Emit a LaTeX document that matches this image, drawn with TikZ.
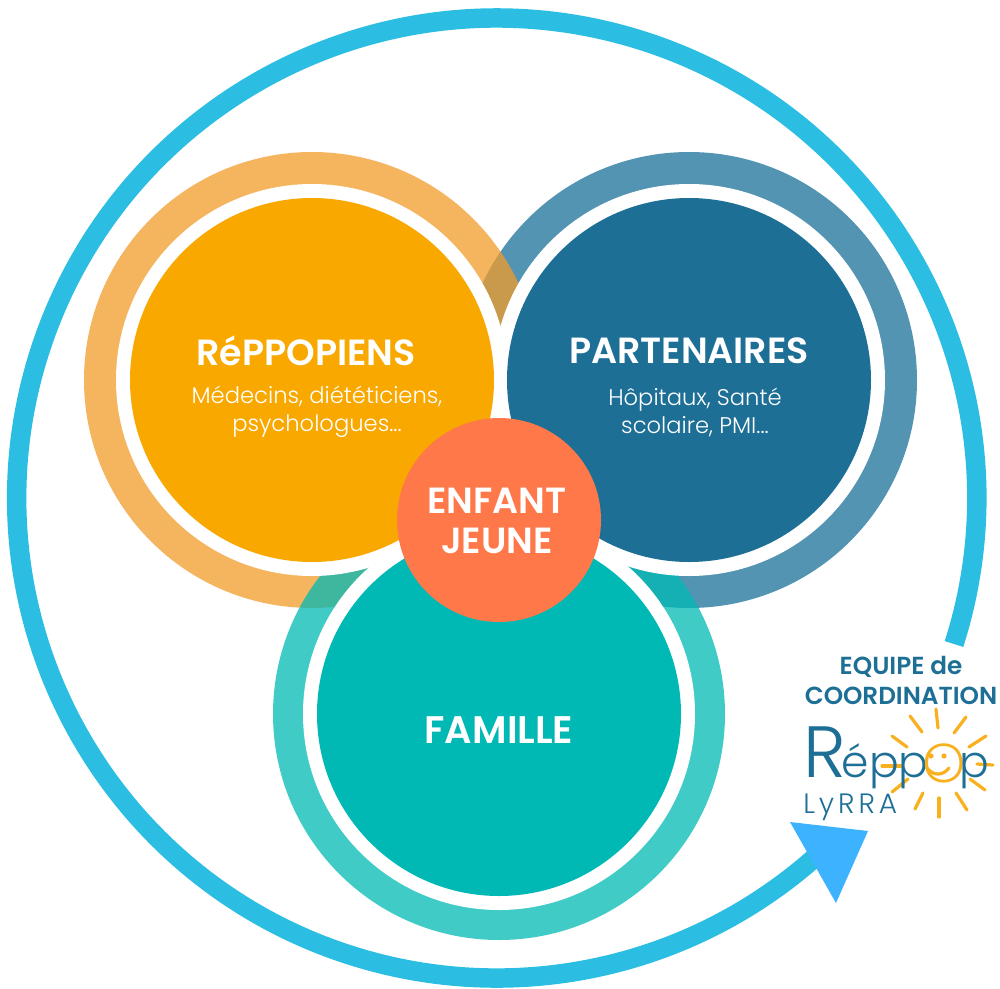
\documentclass[tikz,border=0pt]{standalone}
\usepackage{fontspec}
\usepackage{graphicx}
\setmainfont{Poppins}
\newfontfamily\lightfont{Poppins Light}
\newfontfamily\thinfont{Poppins ExtraLight}
\newfontfamily\boldfont{Poppins SemiBold}
\usetikzlibrary{positioning}
\definecolor{orangefill}{RGB}{249,168,0}
\definecolor{orangering}{RGB}{242,156,42}
\definecolor{bluefill}{RGB}{29,111,150}
\definecolor{bluering}{RGB}{26,112,154}
\definecolor{tealfill}{RGB}{0,185,181}
\definecolor{tealring}{RGB}{0,186,180}
\definecolor{centerfill}{RGB}{255,120,73}
\definecolor{loopblue}{RGB}{43,190,226}
\definecolor{tipblue}{RGB}{61,178,255}
\definecolor{sunyellow}{RGB}{248,176,30}
\tikzset{
  ringdisc/.style={circle,minimum size=456*0.75pt,inner sep=0pt,fill opacity=0.75},
  gapdisc/.style={circle,fill=white,minimum size=392*0.75pt,inner sep=0pt},
  maindisc/.style={circle,minimum size=364*0.75pt,inner sep=0pt},
  titletext/.style={text=white,font=\boldfont\fontsize{27.3}{32}\selectfont,align=center},
  subtext/.style={text=white,font=\lightfont\fontsize{17}{21}\selectfont,align=center},
  teamtext/.style={text=bluefill,font=\boldfont\fontsize{18.5}{22.5}\selectfont,align=center},
  sunray/.style={draw=sunyellow,line width=2.4pt,line cap=round},
}
\begin{document}
\begin{tikzpicture}[x=0.75pt,y=0.75pt,yscale=-1,xscale=1]
    \useasboundingbox (0,0) rectangle (1000,989);

    % Outer loop
    \coordinate (loopstart) at (954,644);
    \draw [loopblue,line width=14.6pt] (loopstart) arc [start angle=17.7,end angle=-311.3,radius=480];
    \fill [tipblue] (790,822) -- (868,831) -- (836,903) -- cycle;

    % Rings
    \node [ringdisc,fill=bluering] (bluering) at (689,380) {};
    \node [ringdisc,fill=orangering] (orangering) at (312,380) {};
    \node [ringdisc,fill=tealring,minimum size=452*0.75pt] (tealring) at (499,714) {};
    \node [gapdisc] (bluegap) at (689,380) {};
    \node [gapdisc] (orangegap) at (312,380) {};
    \node [gapdisc] (tealgap) at (499,714) {};

    % Main discs
    \node [maindisc,fill=bluefill] (bluedisc) at (689,380) {};
    \node [maindisc,fill=orangefill] (orangedisc) at (312,380) {};
    \node [maindisc,fill=tealfill] (tealdisc) at (499,714) {};
    \node [circle,fill=centerfill,minimum size=204*0.75pt,inner sep=0pt] (centerdisc) at (499,520) {};

    % Text Node
    \node [titletext] (reppopiens) at (306,351) {RéPPOPIENS};
    \node [subtext] (reppopienssub) at (317,412) {Médecins, diététiciens,\\psychologues...};
    \node [titletext] (partenaires) at (689,351) {PARTENAIRES};
    \node [subtext] (partenairessub) at (695,412) {Hôpitaux, Santé\\scolaire, PMI...};
    \node [titletext,font=\boldfont\fontsize{28.8}{32}\selectfont] (famille) at (499,730) {FAMILLE};
    \node [titletext,font=\boldfont\fontsize{27.3}{30}\selectfont] (enfant) at (497,521) {ENFANT\\JEUNE};
    \node [teamtext] (equipe) at (901,680) {EQUIPE de\\COORDINATION};

    % Sun
    \foreach \xa/\ya/\xb/\yb in {936/709/938/728,966/717/954/733,986/736/969/747,993/765/977/764,985/790/970/779,967/810/956/793,939/817/939/798,915/809/923/793,892/792/908/779,882/766/902/766,892/736/907/747,910/716/922/732}
        \draw [sunray] (\xa,\ya) -- (\xb,\yb);
    \node [text=bluefill,font=\lightfont\fontsize{33}{36}\selectfont,anchor=base west,inner sep=0pt] (reppop) at (803,777) {\scalebox{1.65}{R}\kern-3pt épp\kern-5pt{\color{sunyellow}\thinfont\raisebox{-4pt}{\scalebox{1.6}{o}}}\kern-6pt p};
    \fill [sunyellow] (931,756) circle (2.6) (944,756) circle (2.6);
    \draw [sunray] (927,768) .. controls (933,776) and (943,776) .. (949,768);
    \node [text=bluefill,font=\lightfont\fontsize{21}{24}\selectfont,anchor=base west,inner sep=0pt] (lyrra) at (803,813) {\addfontfeature{LetterSpace=14}LyRRA};
\end{tikzpicture}
\end{document}
